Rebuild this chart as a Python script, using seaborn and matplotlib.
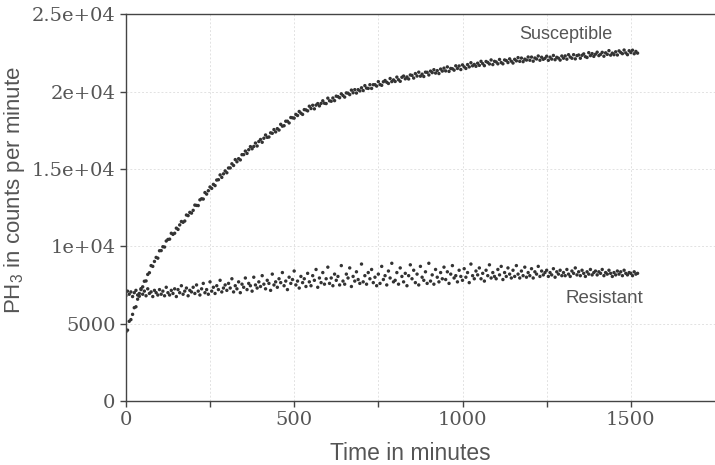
import pandas as pd
import matplotlib
matplotlib.use("Agg")
import matplotlib.pyplot as plt
import seaborn as sns

# time grid, minutes (one reading every 5 min)
time_min = list(range(0, 1521, 5))

# PH3 counts per minute
susceptible = [
    4460, 4580, 5150, 5260, 5600, 6030, 6090, 6580, 6770, 7260,
    7380, 7740, 7760, 8180, 8290, 8750, 8700, 9020, 9280, 9230,
    9710, 9720, 9970, 9950, 10340, 10440, 10460, 10840, 10770, 10840,
    11170, 11090, 11380, 11600, 11550, 11630, 12020, 11980, 12190, 12140,
    12320, 12660, 12640, 12630, 13000, 13070, 13050, 13470, 13370, 13590,
    13830, 13740, 14000, 13920, 14280, 14300, 14610, 14450, 14680, 14870,
    14750, 15060, 15060, 15330, 15220, 15600, 15460, 15660, 15580, 15920,
    15920, 16150, 16000, 16240, 16440, 16300, 16450, 16670, 16480, 16770,
    16900, 16720, 16980, 17190, 17040, 17060, 17330, 17300, 17540, 17390,
    17600, 17510, 17880, 17760, 17790, 18080, 18080, 17970, 18320, 18300,
    18280, 18520, 18450, 18710, 18600, 18520, 18830, 18810, 18750, 19050,
    18900, 19110, 18880, 19120, 19220, 19070, 19230, 19400, 19240, 19220,
    19570, 19400, 19370, 19580, 19410, 19700, 19670, 19600, 19850, 19740,
    19640, 19910, 19890, 19800, 20090, 19920, 20120, 19900, 20120, 20040,
    20240, 20060, 20380, 20220, 20200, 20440, 20200, 20440, 20440, 20350,
    20640, 20450, 20400, 20630, 20710, 20600, 20520, 20840, 20640, 20750,
    20650, 20930, 20760, 20660, 20920, 21000, 20820, 20940, 20810, 21070,
    21040, 20870, 21160, 21000, 21250, 20990, 21120, 20970, 21250, 21240,
    21070, 21320, 21220, 21410, 21190, 21350, 21160, 21450, 21320, 21510,
    21330, 21590, 21300, 21490, 21470, 21380, 21660, 21490, 21650, 21420,
    21720, 21590, 21490, 21740, 21590, 21860, 21660, 21750, 21630, 21830,
    21690, 21950, 21800, 21670, 21940, 21880, 21780, 22040, 21740, 21950,
    21910, 21790, 22070, 21870, 21790, 22040, 22000, 21870, 22110, 21960,
    21840, 22080, 21980, 22190, 21950, 22160, 21930, 22090, 22030, 22230,
    22020, 22225, 21960, 22165, 22100, 22295, 22020, 22215, 22080, 22145,
    22280, 22015, 22220, 22095, 22330, 22055, 22210, 22155, 22030, 22295,
    22150, 22300, 22090, 22380, 22230, 22150, 22380, 22110, 22320, 22360,
    22150, 22340, 22430, 22250, 22200, 22510, 22320, 22450, 22270, 22410,
    22540, 22320, 22400, 22530, 22280, 22500, 22400, 22640, 22350, 22480,
    22380, 22565, 22360, 22625, 22520, 22445, 22680, 22495, 22380, 22635,
    22520, 22670, 22440, 22590, 22480,
]
resistant = [
    6800, 7100, 6900, 7050, 6750, 7000, 7150, 6850, 6950, 7200,
    6900, 7100, 6800, 7250, 6950, 7050, 6750, 7150, 7000, 6850,
    7200, 6900, 7100, 6800, 7350, 7000, 6850, 7150, 6950, 7250,
    6750, 7200, 7000, 7450, 6900, 7100, 7300, 6800, 7150, 7050,
    7350, 6950, 7500, 7100, 6850, 7250, 7600, 7000, 7200, 6900,
    7700, 7100, 7350, 6950, 7450, 7200, 7800, 7050, 7300, 7500,
    7150, 7600, 7300, 7900, 7050, 7450, 7250, 7700, 7000, 7550,
    7350, 7950, 7200, 7600, 7450, 7100, 8000, 7500, 7300, 7700,
    7400, 8100, 7550, 7250, 7800, 7600, 7150, 8200, 7500, 7700,
    7350, 7900, 7650, 8300, 7450, 7750, 7200, 8000, 7600, 7850,
    8400, 7500, 7750, 7300, 8050, 7650, 7900, 7400, 8250, 7700,
    7450, 8100, 7800, 8500, 7350, 7950, 7650, 8300, 7550, 7900,
    8650, 7600, 7950, 7450, 8200, 7800, 8050, 7500, 8750, 7750,
    7550, 8200, 7950, 8600, 7400, 8050, 7750, 8350, 7850, 7600,
    8850, 7700, 8100, 7550, 8300, 7900, 8500, 7650, 8000, 7450,
    8200, 7600, 8700, 7850, 8100, 7500, 8400, 7950, 8900, 7700,
    7800, 8300, 7550, 8600, 8050, 7700, 8250, 7450, 8100, 8800,
    7900, 8450, 7650, 8200, 7500, 8700, 8000, 7800, 8350, 7600,
    8900, 7750, 8150, 7550, 8500, 8000, 7700, 8300, 7900, 8650,
    7850, 8350, 7600, 8200, 8750, 7950, 8100, 7700, 8450, 8050,
    7800, 8550, 8000, 8300, 7650, 8850, 8100, 7900, 8400, 8150,
    8600, 7900, 8250, 7750, 8450, 8100, 8800, 7950, 8300, 8050,
    7900, 8500, 8150, 8700, 7850, 8300, 8050, 8600, 8200, 7950,
    8450, 8050, 8750, 8200, 7950, 8400, 8100, 8650, 8000, 8300,
    8100, 8550, 7950, 8350, 8200, 8700, 8050, 8400, 8150, 8300,
    8450, 8050, 8300, 8150, 8550, 8000, 8350, 8200, 8450, 8100,
    8300, 8100, 8500, 8200, 8050, 8400, 8250, 8600, 8150, 8350,
    8100, 8450, 8250, 8050, 8350, 8200, 8500, 8150, 8300, 8400,
    8150, 8350, 8250, 8500, 8100, 8300, 8200, 8450, 8250, 8050,
    8300, 8150, 8400, 8200, 8350, 8100, 8450, 8250, 8150, 8300,
    8250, 8100, 8350, 8200, 8250,
]

df = pd.DataFrame({
    "time": time_min * 2,
    "counts": susceptible + resistant,
    "strain": ["Susceptible"] * len(time_min) + ["Resistant"] * len(time_min),
})

sns.set_style("white")
ink = "#555555"
dots = "#333333"

fig = plt.figure(figsize=(7.15, 4.65), dpi=100)
ax = fig.add_axes([0.176, 0.1376, 0.824, 0.832])

sns.scatterplot(data=df, x="time", y="counts", hue="strain",
                palette={"Susceptible": dots, "Resistant": dots},
                s=6, linewidth=0, legend=False, ax=ax)

ax.set_xlim(0, 1750)
ax.set_ylim(0, 25000)
ax.set_xticks([0, 500, 1000, 1500])
ax.set_xticks([250, 750, 1250], minor=True)
ax.set_yticks([0, 5000, 10000, 15000, 20000, 25000])
ax.set_yticklabels(["0", "5000", "1e+04", "1.5e+04", "2e+04", "2.5e+04"])
ax.grid(True, which="both", color="#e2e2e2", linestyle=(0, (2, 2)), linewidth=0.7)

for lab in ax.get_xticklabels() + ax.get_yticklabels():
    lab.set_family("DejaVu Serif")
    lab.set_fontsize(14)
    lab.set_color(ink)
ax.tick_params(which="both", direction="out", length=4, width=1, color="#444444",
               bottom=True, left=True)

for side in ["left", "bottom", "top"]:
    ax.spines[side].set_color("#444444")
    ax.spines[side].set_linewidth(1.0)
ax.spines["right"].set_visible(False)

ax.set_xlabel("Time in minutes", family="Liberation Sans", fontsize=16.5, color=ink)
ax.set_ylabel(r"PH$_\mathregular{3}$ in counts per minute", family="Liberation Sans",
              fontsize=16, color=ink)
ax.xaxis.set_label_coords(0.482, -0.105)
ax.yaxis.set_label_coords(-0.168, 0.545)

ax.text(1306, 23700, "Susceptible", family="Liberation Sans", fontsize=13,
        color=ink, ha="center", va="center")
ax.text(1420, 6600, "Resistant", family="Liberation Sans", fontsize=13.5,
        color=ink, ha="center", va="center")

fig.savefig("out.png", dpi=100)
